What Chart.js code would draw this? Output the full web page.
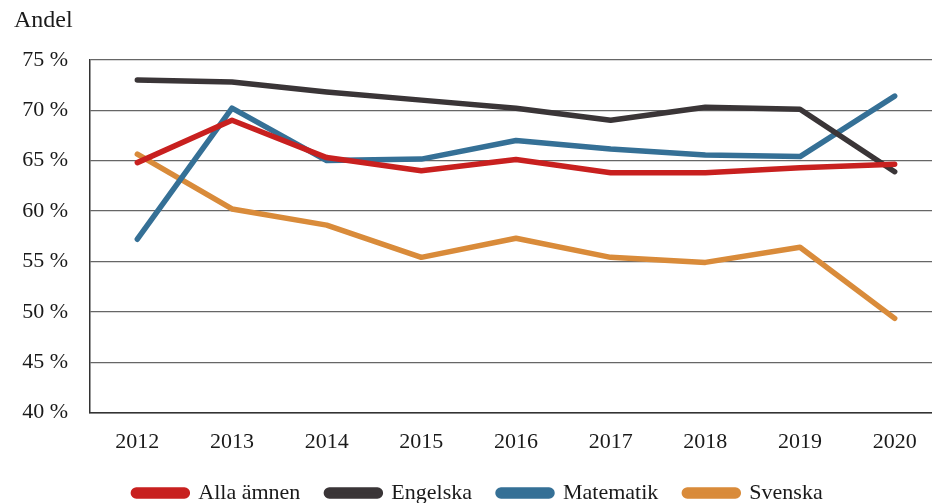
<!DOCTYPE html>
<html>
<head>
<meta charset="utf-8">
<script src="https://cdn.jsdelivr.net/npm/chart.js@4/dist/chart.umd.min.js"></script>
<style>
  html, body { margin: 0; padding: 0; background: #fff; overflow: hidden; }
  #wrap { width: 942px; height: 514px; position: relative; }
</style>
</head>
<body>
<div id="wrap"><canvas id="chart"></canvas></div>
<script>
// Data
const years = ['2012', '2013', '2014', '2015', '2016', '2017', '2018', '2019', '2020'];
const allaAmnen = [64.8, 69.0, 65.3, 64.0, 65.1, 63.8, 63.8, 64.3, 64.65];
const engelska  = [73.0, 72.8, 71.8, 71.0, 70.2, 69.0, 70.3, 70.1, 63.9];
const matematik = [57.2, 70.2, 65.0, 65.15, 67.0, 66.15, 65.55, 65.4, 71.4];
const svenska   = [65.65, 60.2, 58.6, 55.4, 57.3, 55.4, 54.9, 56.4, 49.35];

const font = 'Liberation Serif';

function series(label, data, color) {
    return {
        label: label,
        data: data,
        borderColor: color,
        backgroundColor: color,
        borderWidth: 5.5,
        pointRadius: 0,
        tension: 0,
        borderCapStyle: 'round',
        borderJoinStyle: 'round'
    };
}

const ctx = document.getElementById('chart').getContext('2d');
const chart = new Chart(ctx, {
    type: 'line',
    data: {
        labels: years,
        datasets: [
            series('Alla ämnen', allaAmnen, '#c8201f'),
            series('Engelska', engelska, '#3a3537'),
            series('Matematik', matematik, '#357096'),
            series('Svenska', svenska, '#d98b3a')
        ]
    },
    options: {
        responsive: true,
        maintainAspectRatio: false,
        animation: false,
        layout: { padding: { left: 14, right: 0, top: 6, bottom: 0 } },
        plugins: {
            title: {
                display: true,
                text: 'Andel',
                align: 'start',
                color: '#1a1a1a',
                font: { family: font, size: 24, weight: 'normal' },
                padding: { top: 0, bottom: 25 }
            },
            legend: {
                position: 'bottom',
                labels: {
                    color: '#1a1a1a',
                    font: { family: font, size: 22, lineHeight: 1.0 },
                    boxWidth: 54,
                    boxHeight: 6,
                    useBorderRadius: true,
                    borderRadius: 3,
                    padding: 26
                }
            },
            tooltip: { enabled: false }
        },
        scales: {
            x: {
                offset: true,
                afterFit: function(scale) { scale.height -= 15; },
                grid: { display: false, drawTicks: false },
                border: { display: true, color: '#333', width: 1.5 },
                ticks: {
                    color: '#1a1a1a',
                    font: { family: font, size: 22 },
                    padding: 16,
                    maxRotation: 0
                }
            },
            y: {
                min: 40,
                max: 75,
                afterFit: function(scale) { scale.width = 76; },
                grid: { color: '#666', lineWidth: 1.3, drawTicks: false },
                border: { display: true, color: '#333', width: 1.5 },
                ticks: {
                    stepSize: 5,
                    color: '#1a1a1a',
                    font: { family: font, size: 22 },
                    padding: 22,
                    callback: function(v) { return v + ' %'; }
                }
            }
        }
    }
});
</script>
</body>
</html>
